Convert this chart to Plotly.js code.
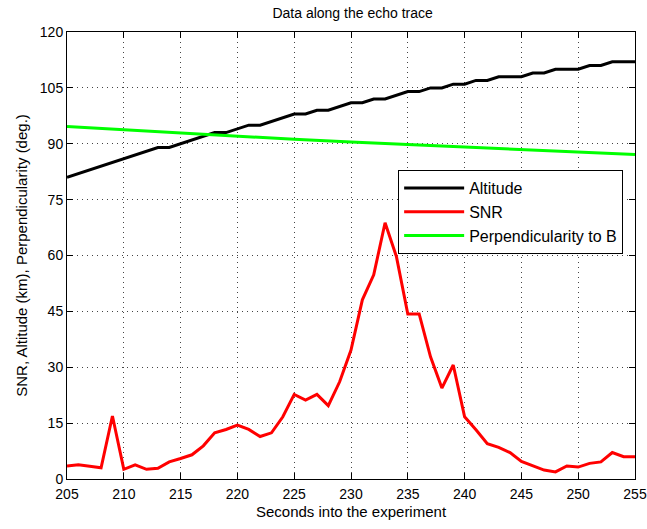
<!DOCTYPE html>
<html>
<head>
<meta charset="utf-8">
<script src="https://cdn.plot.ly/plotly-3.0.1.min.js"></script>
<style>html,body{margin:0;padding:0;background:#fff;}#chart{width:647px;height:529px;}</style>
</head>
<body>
<div id="chart"></div>
<script>
var seconds = [205,206,207,208,209,210,211,212,213,214,215,216,217,218,219,220,221,222,223,224,225,226,227,228,229,230,231,232,233,234,235,236,237,238,239,240,241,242,243,244,245,246,247,248,249,250,251,252,253,254,255];
var altitude = [81,82,83,84,85,86,87,88,89,89,90,91,92,93,93,94,95,95,96,97,98,98,99,99,100,101,101,102,102,103,104,104,105,105,106,106,107,107,108,108,108,109,109,110,110,110,111,111,112,112,112];
var snr = [3.5,3.8,3.4,3.0,16.9,2.6,3.8,2.6,2.9,4.6,5.5,6.5,8.9,12.4,13.3,14.5,13.3,11.4,12.4,16.7,22.7,21.2,22.7,19.7,26.1,34.6,48.1,54.8,68.8,59.7,44.3,44.3,32.8,24.4,30.6,16.7,13.2,9.5,8.5,7.1,4.7,3.5,2.4,1.9,3.5,3.2,4.2,4.6,7.1,6.0,6.0];
var perpSeconds = [205,210,215,220,225,230,235,240,245,250,255];
var perp = [94.6,93.7,92.8,92.0,91.2,90.5,89.8,89.1,88.4,87.8,87.1];
var xTicks = [205,210,215,220,225,230,235,240,245,250,255];
var yTicks = [0,15,30,45,60,75,90,105,120];

var traces = [
  {x: seconds, y: altitude, name: 'Altitude', mode: 'lines', line: {color: '#000000', width: 3}},
  {x: seconds, y: snr, name: 'SNR', mode: 'lines', line: {color: '#ff0000', width: 3}},
  {x: perpSeconds, y: perp, name: 'Perpendicularity to B', mode: 'lines', line: {color: '#00ff00', width: 3}}
];

var font = {family: 'Liberation Sans, Arial, sans-serif', size: 14, color: '#000'};
var axisCommon = {
  showline: true, linecolor: '#000', linewidth: 1, mirror: 'ticks',
  ticks: 'inside', ticklen: 6, tickcolor: '#000',
  showgrid: true, gridcolor: '#444', griddash: '1px,4px', gridwidth: 1,
  zeroline: false, tickfont: font
};
var layout = {
  width: 647, height: 529,
  margin: {l: 67, r: 12, t: 32, b: 50},
  paper_bgcolor: '#fff', plot_bgcolor: '#fff',
  font: font,
  title: {text: 'Data along the echo trace', font: {family: font.family, size: 14, color: '#000'}, x: 0.545, xanchor: 'center', y: 0.985, yanchor: 'top'},
  xaxis: Object.assign({}, axisCommon, {range: [205, 255], tickvals: xTicks, ticktext: xTicks.map(String), ticklabelstandoff: 2,
    title: {text: 'Seconds into the experiment', font: {family: font.family, size: 15, color: '#000'}, standoff: 5}}),
  yaxis: Object.assign({}, axisCommon, {range: [0, 120], tickvals: yTicks, ticktext: yTicks.map(String),
    title: {text: 'SNR, Altitude (km), Perpendicularity (deg.)', font: {family: font.family, size: 15, color: '#000'}, standoff: 8}}),
  legend: {x: 0.583, y: 0.691, xanchor: 'left', yanchor: 'top', bgcolor: '#fff', bordercolor: '#000', borderwidth: 1,
    font: {family: font.family, size: 16, color: '#000'}, tracegroupgap: 0, itemwidth: 60},
  showlegend: true
};
Plotly.newPlot('chart', traces, layout, {displayModeBar: false, staticPlot: true});
</script>
</body>
</html>
